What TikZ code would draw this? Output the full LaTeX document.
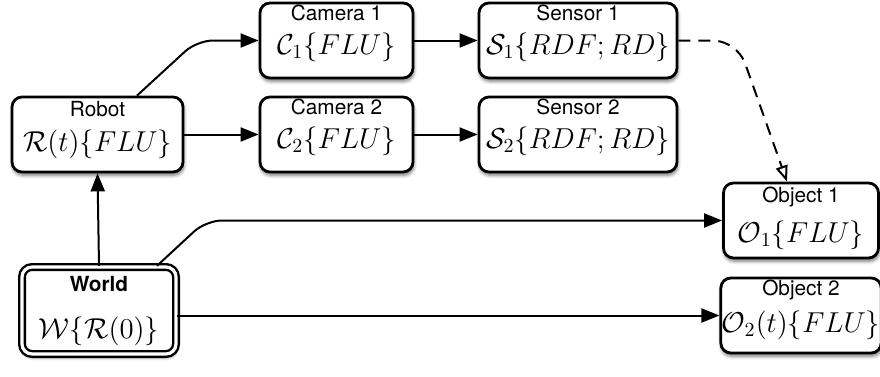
\documentclass[tikz,border=0pt]{standalone}
\usepackage{fontspec}
\setsansfont{TeX Gyre Heros}
\usetikzlibrary{arrows.meta,shadows.blur}

\tikzset{
  box/.style={draw, line width=1.4pt, rounded corners=5pt, fill=white,
    blur shadow={shadow xshift=0.4pt, shadow yshift=-1.6pt, shadow blur steps=6, shadow opacity=55},
    minimum height=37.5pt, text height=#1, text depth=1pt,
    font=\fontsize{14.4}{17}\selectfont},
  box/.default=14.5pt,
  title/.style={anchor=north, inner sep=1.5pt, font=\sffamily\fontsize{10.4}{12}\selectfont},
  link/.style={line width=1pt, -{Triangle[length=9pt,width=7pt]}},
}

\begin{document}
\begin{tikzpicture}[x=0.5pt,y=-0.5pt]
\useasboundingbox (0,0) rectangle (880,376);
\node[box, minimum width=76.5pt, label={[title]north:Camera 1}] (cam1) at (336.5,40.5) {$\mathcal{C}_1\{FLU\}$};
\node[box, minimum width=99pt, inner xsep=2pt, label={[title]north:Sensor 1}] (sens1) at (578,40.5) {$\mathcal{S}_1\{RDF;RD\}$};
\node[box, minimum width=76.5pt, label={[title]north:Camera 2}] (cam2) at (336.5,134.5) {$\mathcal{C}_2\{FLU\}$};
\node[box, minimum width=99pt, inner xsep=2pt, label={[title]north:Sensor 2}] (sens2) at (578,134.5) {$\mathcal{S}_2\{RDF;RD\}$};
\node[box=18pt, minimum width=85.5pt, label={[title,yshift=-1pt]north:Robot}] (robot) at (97.5,134.5) {$\mathcal{R}(t)\{FLU\}$};
\node[box=22.5pt, minimum width=77.5pt, label={[title,yshift=-1pt]north:Object 1}] (obj1) at (801,220.5) {$\mathcal{O}_1\{FLU\}$};
\node[box=17.5pt, minimum width=77.5pt, inner xsep=0.5pt, font=\fontsize{13.8}{16}\selectfont,
  label={[title]north:Object 2}] (obj2) at (801,315.5) {$\mathcal{O}_2(t)\{FLU\}$};
\node[box=28.5pt, double, double distance=1.6pt, line width=1.2pt, minimum width=77pt, minimum height=43.5pt,
  label={[title,inner sep=5pt]north:\bfseries World}] (world) at (99,310.5) {$\mathcal{W}\{\mathcal{R}(0)\}$};

\draw[link, rounded corners=8pt] ([xshift=19.75pt]robot.north) -- (cam1.west -| 197,0) -- (cam1.west);
\draw[link] (robot.east) -- (cam2.west);
\draw[link] (cam1.east) -- (sens1.west);
\draw[link] (cam2.east) -- (sens2.west);
\draw[line width=1pt, dash pattern=on 6pt off 4pt, -{Triangle[open,length=8pt,width=6pt]}, rounded corners=12pt]
  (sens1.east) -- (sens1.east -| 737,0) -- ([xshift=-7pt]obj1.north);
\draw[link] (world.north) -- (robot.south);
\draw[link, rounded corners=8pt] ([xshift=29pt]world.north) -- (obj1.west -| 206,0) -- (obj1.west);
\draw[link] (world.east |- obj2.west) -- (obj2.west);
\end{tikzpicture}
\end{document}
